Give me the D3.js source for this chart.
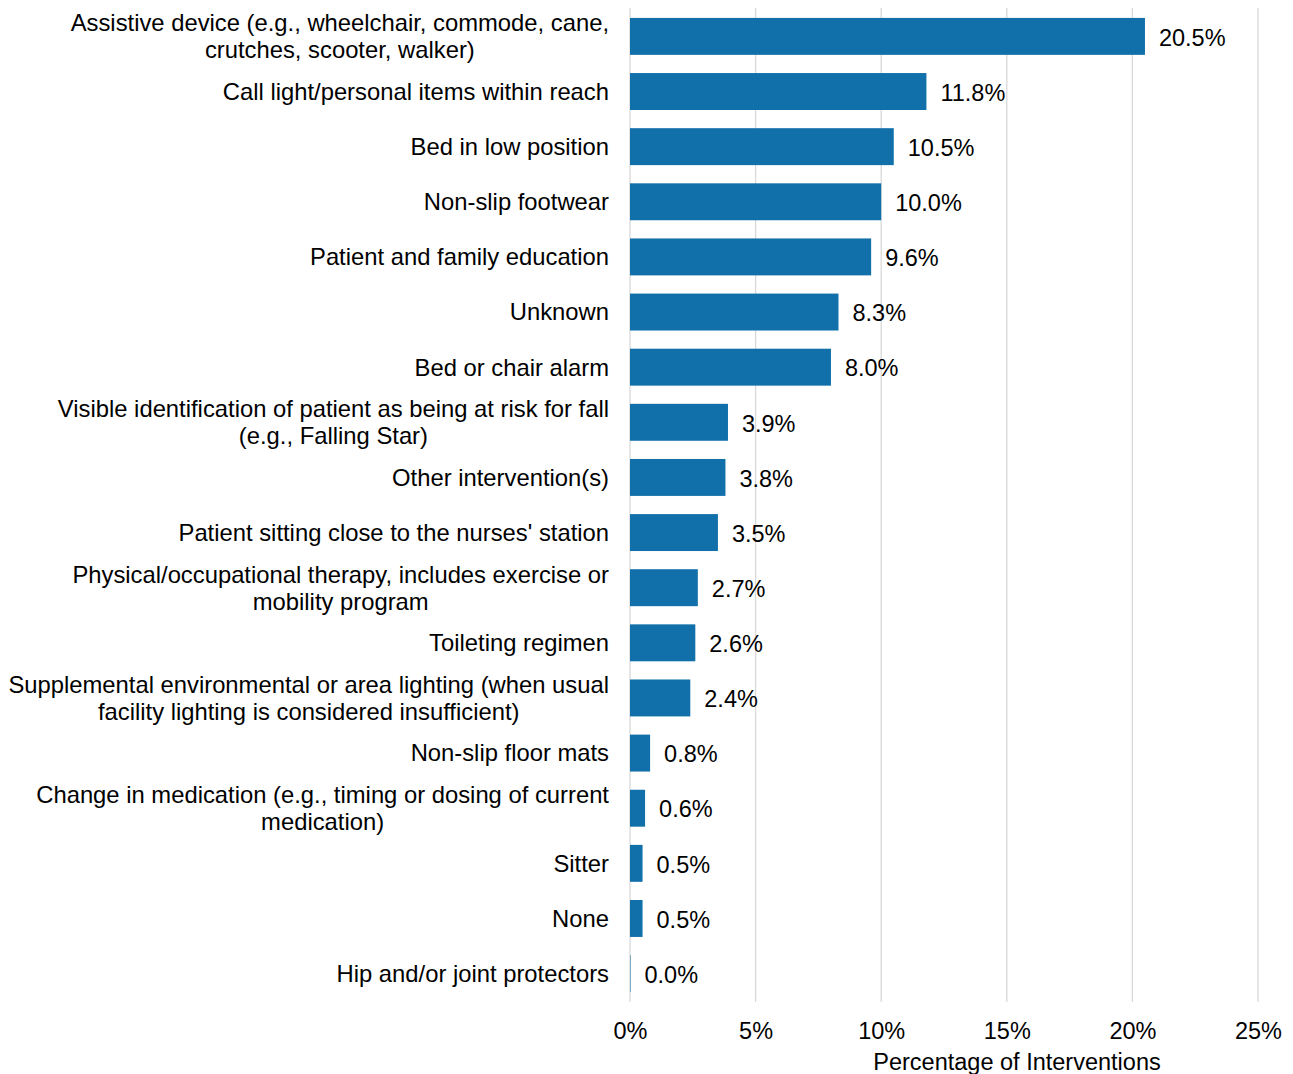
<!DOCTYPE html>
<html>
<head>
<meta charset="utf-8">
<script src="https://cdn.jsdelivr.net/npm/d3@7"></script>
<style>
  html, body { margin: 0; padding: 0; background: #fff; }
  svg { display: block; }
  text { font-family: "Liberation Sans", Arial, sans-serif; fill: #000; }
</style>
</head>
<body>
<svg id="chart" width="1293" height="1074"></svg>
<script>
const categories = [
  "Assistive device (e.g., wheelchair, commode, cane,\ncrutches, scooter, walker)",
  "Call light/personal items within reach",
  "Bed in low position",
  "Non-slip footwear",
  "Patient and family education",
  "Unknown",
  "Bed or chair alarm",
  "Visible identification of patient as being at risk for fall\n(e.g., Falling Star)",
  "Other intervention(s)",
  "Patient sitting close to the nurses' station",
  "Physical/occupational therapy, includes exercise or\nmobility program",
  "Toileting regimen",
  "Supplemental environmental or area lighting (when usual\nfacility lighting is considered insufficient)",
  "Non-slip floor mats",
  "Change in medication (e.g., timing or dosing of current\nmedication)",
  "Sitter",
  "None",
  "Hip and/or joint protectors"
];
const values = [20.5, 11.8, 10.5, 10.0, 9.6, 8.3, 8.0, 3.9, 3.8, 3.5, 2.7, 2.6, 2.4, 0.8, 0.6, 0.5, 0.5, 0.02];
const xTicks = [0, 5, 10, 15, 20, 25];
const xTickLabels = ["0%", "5%", "10%", "15%", "20%", "25%"];
const xTitle = "Percentage of Interventions";

const svg = d3.select("#chart");
const X0 = 630, X1 = 1258, Y0 = 8, Y1 = 1002;
const FS = 23.5;
const FS_LAB = 23.8;

const x = d3.scaleLinear().domain([0, 25]).range([X0, X1]);
const y = d3.scaleBand().domain(categories).range([Y0, Y1]).paddingInner(0.33).paddingOuter(0.18);

// gridlines
svg.append("g").selectAll("line").data(xTicks).join("line")
  .attr("x1", d => x(d)).attr("x2", d => x(d))
  .attr("y1", Y0).attr("y2", Y1)
  .attr("stroke", "#d9d9d9").attr("stroke-width", 1.3);

// x axis via d3.axisBottom
const xAxis = d3.axisBottom(x).tickValues(xTicks).tickFormat((d, i) => xTickLabels[i]).tickSize(0).tickPadding(0);
const gx = svg.append("g").attr("transform", `translate(0, ${Y1 + 20})`).call(xAxis);
gx.select(".domain").remove();
gx.selectAll("text").attr("font-size", FS).attr("font-family", "Liberation Sans, Arial, sans-serif").attr("fill", "#000").attr("dy", "0.71em");

// bars
svg.append("g").selectAll("rect").data(values).join("rect")
  .attr("x", x(0))
  .attr("y", (d, i) => y(categories[i]))
  .attr("width", d => x(d) - x(0))
  .attr("height", y.bandwidth())
  .attr("fill", "#1170aa");

// value labels
svg.append("g").selectAll("text").data(values).join("text")
  .attr("x", d => x(d) + 14)
  .attr("y", (d, i) => y(categories[i]) + y.bandwidth() / 2 + 1)
  .attr("dy", "0.35em")
  .attr("font-size", FS)
  .text(d => d.toFixed(1) + "%");

// category labels (multi-line, centered block, right-aligned to X)
const LX = 609, LH = 27;
const lab = svg.append("g");
categories.forEach((c, i) => {
  const lines = c.split("\n");
  const cy = y(c) + y.bandwidth() / 2;
  const g = lab.append("g");
  const texts = lines.map((ln, j) => g.append("text")
    .attr("font-size", FS_LAB)
    .attr("y", cy + (j - (lines.length - 1) / 2) * LH)
    .attr("dy", "0.35em")
    .attr("text-anchor", "middle")
    .text(ln));
  const widths = texts.map(t => t.node().getComputedTextLength());
  const w = Math.max(...widths);
  texts.forEach(t => t.attr("x", LX - w / 2));
});

// axis title
svg.append("text")
  .attr("x", 1017).attr("y", 1062).attr("dy", "0.35em")
  .attr("text-anchor", "middle").attr("font-size", FS)
  .text(xTitle);
</script>
</body>
</html>
